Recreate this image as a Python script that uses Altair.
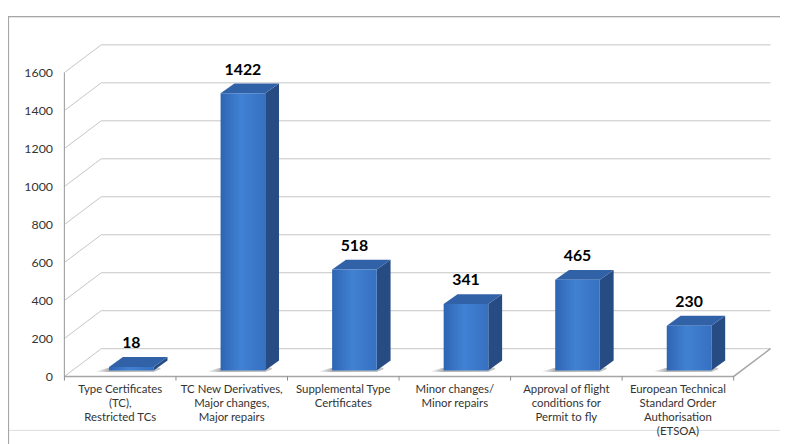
import altair as alt
import pandas as pd

# ---- data ----
categories = [
    "Type Certificates\n(TC),\nRestricted TCs",
    "TC New Derivatives,\nMajor changes,\nMajor repairs",
    "Supplemental Type\nCertificates",
    "Minor changes/\nMinor repairs",
    "Approval of flight\nconditions for\nPermit to fly",
    "European Technical\nStandard Order\nAuthorisation\n(ETSOA)",
]
values = [18, 1422, 518, 341, 465, 230]
y_ticks = [0, 200, 400, 600, 800, 1000, 1200, 1400, 1600]

# ---- drawing constants (style / layout) ----
W, H = 780, 418
XDOM = [-0.5058, 6.4153]          # category units
YA = [-281.4, 1897.0]             # wall / axis scale
YB = [-304.7, 1818.0]             # bar plane scale
BAR_L, BAR_R = 0.4, 0.8           # front face within category
DX, DY = 0.124, 50.8              # bar depth
WALL_DX, WALL_DY = 0.33, 146.0    # wall depth
N = len(categories)
FONT = "Lato"

xs = alt.Scale(domain=XDOM, nice=False, zero=False)
ysA = alt.Scale(domain=YA, nice=False, zero=False)
ysB = alt.Scale(domain=YB, nice=False, zero=False)

# gridlines (left wall diagonal + back wall horizontal)
grid_rows = []
for t in y_ticks:
    grid_rows += [
        {"t": t, "o": 0, "x": 0.0, "y": t},
        {"t": t, "o": 1, "x": WALL_DX, "y": t + WALL_DY},
        {"t": t, "o": 2, "x": N + WALL_DX, "y": t + WALL_DY},
    ]
grid_df = pd.DataFrame(grid_rows)

floor_df = pd.DataFrame([
    {"o": 0, "x": 0.0, "y": 0.0},
    {"o": 1, "x": float(N), "y": 0.0},
    {"o": 2, "x": N + WALL_DX, "y": WALL_DY},
])

wall_df = pd.DataFrame([{"x": 0.0, "y": 0.0, "y2": float(y_ticks[-1])}])
bound_df = pd.DataFrame([{"x": float(i), "y": 0.0, "y2": -22.0} for i in range(N + 1)])

bars_df = pd.DataFrame({
    "cat": categories,
    "value": values,
    "x0": [i + BAR_L for i in range(N)],
    "x1": [i + BAR_R for i in range(N)],
    "xc": [i + (BAR_L + BAR_R) / 2 for i in range(N)],
    "xm": [i + 0.5 for i in range(N)],
    "base": [0.0] * N,
    "top": [v + DY for v in values],
})

side_rows, top_rows, shadow_rows = [], [], []
for i, (c, v) in enumerate(zip(categories, values)):
    side_rows += [
        {"cat": c, "x": i + BAR_R, "y": v, "y2": 0.0},
        {"cat": c, "x": i + BAR_R + DX, "y": v + DY, "y2": DY},
    ]
    top_rows += [
        {"cat": c, "x": i + BAR_L, "y": v, "y2": v},
        {"cat": c, "x": i + BAR_L + DX, "y": v + DY, "y2": v},
        {"cat": c, "x": i + BAR_R, "y": v + DY, "y2": v},
        {"cat": c, "x": i + BAR_R + DX, "y": v + DY, "y2": v + DY},
    ]
    # soft floor shadow: a slanted band lying to the lower-left of each bar
    shadow_rows += [
        {"cat": c, "x": i + BAR_L - 0.12, "y": -4.0, "y2": -8.0},
        {"cat": c, "x": i + BAR_L, "y": 14.0, "y2": -8.0},
        {"cat": c, "x": i + BAR_R, "y": 14.0, "y2": -8.0},
        {"cat": c, "x": i + BAR_R + 0.06, "y": 14.0, "y2": 6.0},
    ]
side_df = pd.DataFrame(side_rows)
top_df = pd.DataFrame(top_rows)
shadow_df = pd.DataFrame(shadow_rows)

# ---- layers ----
grid = alt.Chart(grid_df).mark_line(color="#c4c4c4", strokeWidth=1).encode(
    x=alt.X("x:Q", scale=xs, axis=None),
    y=alt.Y("y:Q", scale=ysA, axis=alt.Axis(
        values=y_ticks, format="d", offset=-57, domain=False, ticks=False, grid=False,
        labelPadding=12, labelFontSize=12.5, labelColor="#333333", labelFont=FONT,
        title=None)),
    detail="t:N",
    order="o:Q",
)

floor = alt.Chart(floor_df).mark_line(color="#a6a6a6", strokeWidth=1.5).encode(
    x=alt.X("x:Q", scale=xs, axis=None),
    y=alt.Y("y:Q", scale=ysA, axis=None),
    order="o:Q",
)

wall = alt.Chart(wall_df).mark_rule(color="#a6a6a6", strokeWidth=1.2).encode(
    x=alt.X("x:Q", scale=xs, axis=None),
    y=alt.Y("y:Q", scale=ysA, axis=None),
    y2="y2:Q",
)

bounds = alt.Chart(bound_df).mark_rule(color="#8c8c8c", strokeWidth=1).encode(
    x=alt.X("x:Q", scale=xs, axis=None),
    y=alt.Y("y:Q", scale=ysA, axis=None),
    y2="y2:Q",
)

shadow = alt.Chart(shadow_df).mark_area(
    color=alt.Gradient(gradient="linear",
                       stops=[alt.GradientStop(color="#ffffff", offset=0),
                              alt.GradientStop(color="#9a9a9a", offset=0.2),
                              alt.GradientStop(color="#b4b4b4", offset=1)],
                       x1=0, x2=1, y1=0, y2=0),
    opacity=0.75,
).encode(
    x=alt.X("x:Q", scale=xs, axis=None),
    y=alt.Y("y:Q", scale=ysB, axis=None),
    y2="y2:Q",
    detail="cat:N",
)

side = alt.Chart(side_df).mark_area(color="#274c84", opacity=1).encode(
    x=alt.X("x:Q", scale=xs, axis=None),
    y=alt.Y("y:Q", scale=ysB, axis=None),
    y2="y2:Q",
    detail="cat:N",
)

topface = alt.Chart(top_df).mark_area(color="#3162a8", opacity=1).encode(
    x=alt.X("x:Q", scale=xs, axis=None),
    y=alt.Y("y:Q", scale=ysB, axis=None),
    y2="y2:Q",
    detail="cat:N",
)

front = alt.Chart(bars_df).mark_rect(
    color=alt.Gradient(gradient="linear",
                       stops=[alt.GradientStop(color="#2e65b2", offset=0),
                              alt.GradientStop(color="#4181d3", offset=0.45),
                              alt.GradientStop(color="#3670c1", offset=1)],
                       x1=0, x2=1, y1=0, y2=0),
).encode(
    x=alt.X("x0:Q", scale=xs, axis=None), x2="x1:Q",
    y=alt.Y("base:Q", scale=ysB, axis=None), y2="value:Q",
)

vlabels = alt.Chart(bars_df).mark_text(
    font=FONT, fontSize=16, fontWeight="bold", color="#000000",
    baseline="bottom", dy=-6,
).encode(
    x=alt.X("xc:Q", scale=xs, axis=None),
    y=alt.Y("top:Q", scale=ysB, axis=None),
    text="value:Q",
)

clabels = alt.Chart(bars_df).transform_calculate(
    ly="-42"
).mark_text(
    font=FONT, fontSize=11.5, color="#333333", baseline="top",
    lineBreak="\n", lineHeight=14, align="center",
).encode(
    x=alt.X("xm:Q", scale=xs, axis=None),
    y=alt.Y("ly:Q", scale=ysA, axis=None),
    text="cat:N",
)

border = alt.Chart(pd.DataFrame({"k": [0]})).mark_rule(color="#a6a6a6", strokeWidth=1.2).encode(
    x=alt.value(0.5), y=alt.value(0), y2=alt.value(H + 30),
)
border_top = alt.Chart(pd.DataFrame({"k": [0]})).mark_rule(color="#a6a6a6", strokeWidth=1.2).encode(
    x=alt.value(0), x2=alt.value(W), y=alt.value(0.5),
)

chart = alt.layer(
    grid, floor, wall, bounds, shadow, side, topface, front, vlabels, clabels,
    border, border_top,
).resolve_scale(y="independent").properties(
    width=W, height=H,
    autosize=alt.AutoSizeParams(type="none"),
    padding={"left": 0, "top": 6, "right": 0, "bottom": 12},
).configure_view(stroke=None).configure(background="#ffffff")

chart.save("out.html", embed_options={"renderer": "svg", "actions": False})
